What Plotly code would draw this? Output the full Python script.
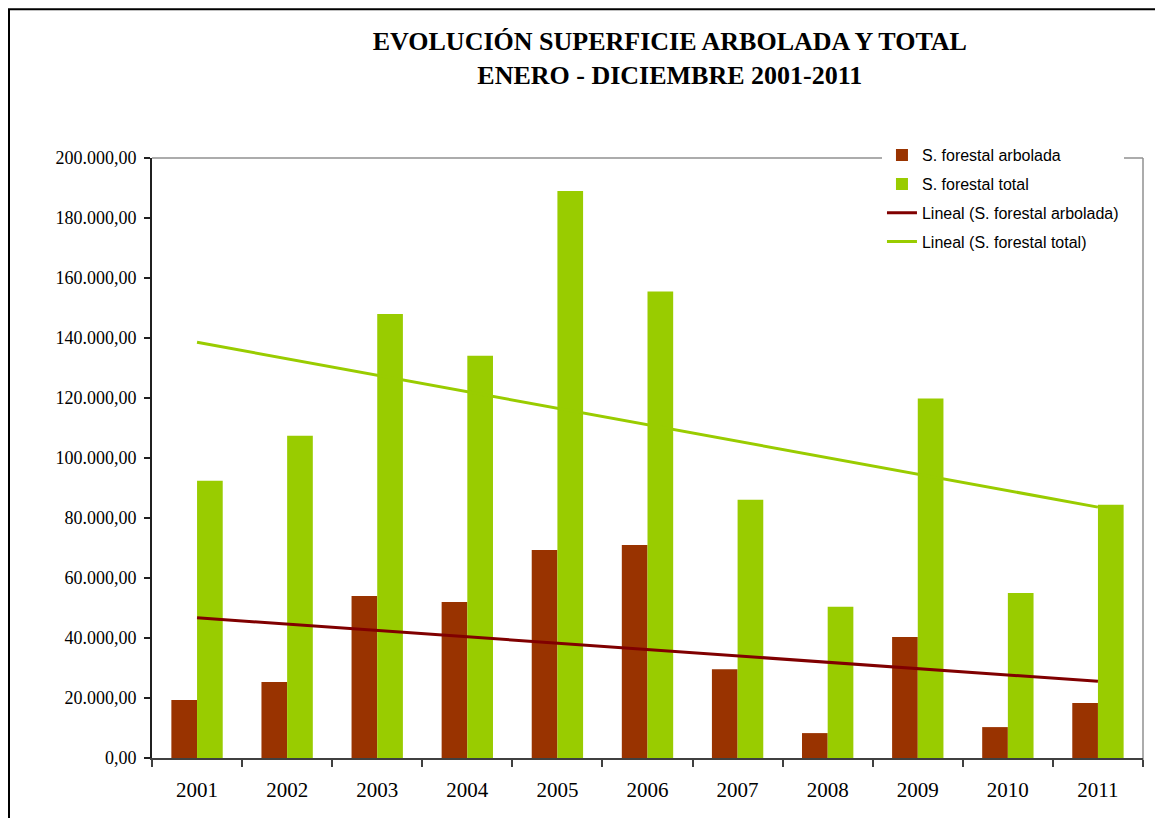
import numpy as np
import plotly.graph_objects as go

# datos (hectáreas)
years = ["2001", "2002", "2003", "2004", "2005", "2006", "2007", "2008", "2009", "2010", "2011"]
arbolada = [19300, 25300, 54000, 52000, 69300, 71000, 29600, 8300, 40300, 10300, 18300]
total = [92400, 107400, 148000, 134100, 189000, 155500, 86100, 50400, 119800, 55000, 84400]

y_ticks = list(range(0, 200001, 20000))

# tendencia lineal (como la de Excel)
idx = np.arange(len(years))
trend_arb = np.polyval(np.polyfit(idx, arbolada, 1), idx)
trend_tot = np.polyval(np.polyfit(idx, total, 1), idx)

SERIF = "Palatino Linotype, Book Antiqua, Liberation Serif, serif"
SANS = "Arial, Liberation Sans, sans-serif"

fig = go.Figure()
fig.add_trace(go.Bar(x=years, y=arbolada, name="S. forestal arbolada",
                     marker=dict(color="#993300", line=dict(width=0)), legendgroup="a"))
fig.add_trace(go.Bar(x=years, y=total, name="S. forestal total",
                     marker=dict(color="#99CC00", line=dict(width=0)), legendgroup="b"))
fig.add_trace(go.Scatter(x=years, y=trend_arb, mode="lines", name="Lineal (S. forestal arbolada)",
                         line=dict(color="#800000", width=3), legendgroup="c"))
fig.add_trace(go.Scatter(x=years, y=trend_tot, mode="lines", name="Lineal (S. forestal total)",
                         line=dict(color="#99CC00", width=3), legendgroup="d"))

# la página añade 8px de margen, así que el lienzo es algo menor
fig.update_layout(
    width=1155, height=810,
    margin=dict(l=144, r=20, t=150, b=60),
    paper_bgcolor="white", plot_bgcolor="white",
    barmode="group", bargap=0.43, bargroupgap=0,
    separators=",.",
    title=dict(
        text="<b>EVOLUCIÓN SUPERFICIE ARBOLADA Y TOTAL<br>ENERO - DICIEMBRE 2001-2011</b>",
        font=dict(family=SERIF, size=26, color="black"),
        x=0.573, xanchor="center", xref="container",
        y=0.948, yanchor="top", yref="container",
    ),
    legend=dict(
        x=0.7366, xanchor="left", y=1.033, yanchor="top",
        bgcolor="white", borderwidth=0,
        font=dict(family=SANS, size=16, color="black"),
        tracegroupgap=5, traceorder="grouped",
    ),
    xaxis=dict(
        type="category", tickson="boundaries",
        ticks="outside", ticklen=7, tickcolor="#404040", tickwidth=1.5,
        showline=True, linecolor="#404040", linewidth=2,
        showgrid=False,
        tickfont=dict(family=SERIF, size=21, color="black"),
        ticklabelstandoff=12,
    ),
    yaxis=dict(
        range=[0, 200000], tickvals=y_ticks, tickformat=",.2f",
        ticks="outside", ticklen=6, tickcolor="#202020", tickwidth=1.5,
        showline=True, linecolor="#202020", linewidth=2,
        showgrid=False, zeroline=False,
        tickfont=dict(family=SERIF, size=18, color="black"),
        ticklabelstandoff=4,
    ),
    shapes=[
        # marco gris superior/derecho del área de trazado
        dict(type="line", xref="paper", yref="paper", x0=0, x1=1, y0=1, y1=1,
             line=dict(color="#909090", width=1.5), layer="below"),
        dict(type="line", xref="paper", yref="paper", x0=1, x1=1, y0=-0.007, y1=1,
             line=dict(color="#909090", width=1.5), layer="below"),
        # marco exterior del gráfico
        dict(type="rect", xref="paper", yref="paper", x0=-0.1443, x1=1.0151, y0=-0.2, y1=1.248,
             line=dict(color="black", width=2), fillcolor="rgba(0,0,0,0)"),
    ],
)

fig.write_html("out.html")
